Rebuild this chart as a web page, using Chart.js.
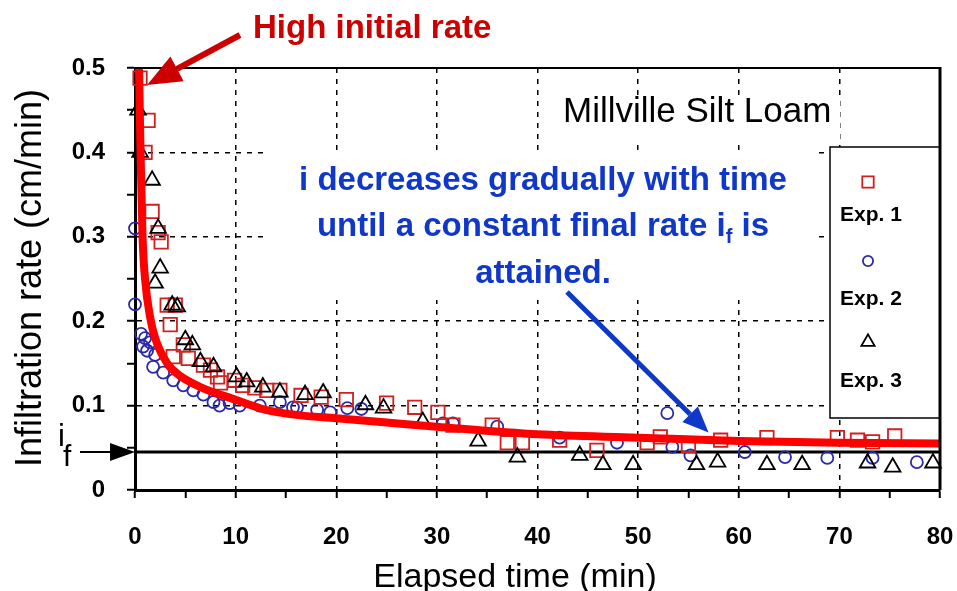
<!DOCTYPE html>
<html>
<head>
<meta charset="utf-8">
<title>Millville Silt Loam - infiltration rate</title>
<script src="https://cdn.jsdelivr.net/npm/chart.js@4.4.1/dist/chart.umd.min.js"></script>
<style>
  html, body { margin: 0; padding: 0; background: #fff; }
</style>
</head>
<body>
<canvas id="canvas" width="957" height="591"></canvas>
<script>
'use strict';

// Exp. 1 (red squares)
var exp1X = [0.5, 1.3, 1.0, 1.7, 2.3, 2.6, 3.2, 4.0, 3.5, 4.8, 3.8, 5.3, 6.8, 7.5, 8.2, 8.5, 9.9, 10.7, 11.9, 13.1, 14.4, 16.5, 18.5, 21.0, 25.0, 27.8, 30.1, 31.6, 35.5, 37.0, 38.5, 42.2, 45.9, 50.9, 52.2, 55.0, 58.2, 62.8, 69.8, 71.8, 73.3, 75.5];
var exp1Y = [0.488, 0.438, 0.400, 0.330, 0.305, 0.294, 0.219, 0.219, 0.196, 0.172, 0.158, 0.156, 0.148, 0.142, 0.134, 0.127, 0.130, 0.124, 0.121, 0.118, 0.118, 0.112, 0.110, 0.107, 0.103, 0.098, 0.092, 0.077, 0.077, 0.056, 0.056, 0.059, 0.047, 0.056, 0.063, 0.053, 0.059, 0.062, 0.062, 0.059, 0.057, 0.064];

// Exp. 2 (blue circles)
var exp2X = [0.0, 0.0, 0.6, 1.0, 0.8, 1.5, 1.2, 2.0, 1.8, 2.8, 3.8, 4.8, 5.8, 6.8, 7.8, 8.4, 9.4, 10.4, 12.4, 14.4, 15.7, 16.1, 18.1, 19.4, 21.1, 22.5, 30.6, 31.6, 36.0, 42.2, 47.9, 52.9, 53.4, 55.2, 60.6, 64.6, 68.8, 73.3, 77.7];
var exp2Y = [0.310, 0.220, 0.185, 0.180, 0.170, 0.175, 0.165, 0.160, 0.146, 0.139, 0.130, 0.124, 0.118, 0.113, 0.104, 0.100, 0.103, 0.100, 0.100, 0.104, 0.098, 0.098, 0.095, 0.092, 0.097, 0.096, 0.079, 0.079, 0.075, 0.062, 0.056, 0.091, 0.051, 0.041, 0.045, 0.039, 0.038, 0.038, 0.033];

// Exp. 3 (black triangles)
var exp3X = [0.3, 0.5, 1.7, 2.3, 2.5, 2.0, 3.7, 4.2, 5.0, 5.7, 6.5, 7.8, 10.1, 11.1, 12.7, 14.4, 16.9, 18.7, 22.9, 24.7, 28.6, 34.1, 38.0, 44.2, 46.5, 49.5, 55.8, 57.9, 62.8, 66.3, 72.8, 75.3, 79.3];
var exp3Y = [0.450, 0.400, 0.367, 0.310, 0.263, 0.245, 0.219, 0.217, 0.178, 0.172, 0.152, 0.146, 0.134, 0.128, 0.122, 0.116, 0.113, 0.115, 0.101, 0.097, 0.081, 0.058, 0.039, 0.041, 0.030, 0.030, 0.030, 0.033, 0.030, 0.030, 0.032, 0.027, 0.032];

// fitted curve
var fitX = [0.4, 0.55, 0.75, 1.0, 1.5, 2.0, 3.2, 4.5, 6.5, 10, 13, 16, 20, 25, 30, 40, 50, 60, 70, 80];
var fitY = [0.5, 0.4, 0.3, 0.25, 0.205, 0.18, 0.15, 0.135, 0.122, 0.107, 0.095, 0.089, 0.085, 0.080, 0.075, 0.066, 0.062, 0.058, 0.056, 0.055];

// constant final rate i_f
var finalRate = 0.045;

var xTickLabels = ['0', '10', '20', '30', '40', '50', '60', '70', '80'];
var yTickLabels = ['0', '0.1', '0.2', '0.3', '0.4', '0.5'];
var legendLabels = ['Exp. 1', 'Exp. 2', 'Exp. 3'];

var FONT = "'Liberation Sans', Arial, sans-serif";

function pts(xs, ys) {
	return xs.map(function(x, i) { return {x: x, y: ys[i]}; });
}

function isMajor(v, step) {
	var r = v / step;
	return Math.abs(r - Math.round(r)) < 1e-6;
}

function arrow(ctx, x1, y1, x2, y2, color, width, headLen, headW) {
	var ang = Math.atan2(y2 - y1, x2 - x1);
	var bx = x2 - headLen * Math.cos(ang), by = y2 - headLen * Math.sin(ang);
	ctx.save();
	ctx.strokeStyle = color;
	ctx.lineWidth = width;
	ctx.beginPath();
	ctx.moveTo(x1, y1);
	ctx.lineTo(bx, by);
	ctx.stroke();
	ctx.fillStyle = color;
	ctx.beginPath();
	ctx.moveTo(x2, y2);
	ctx.lineTo(bx + headW / 2 * Math.sin(ang), by - headW / 2 * Math.cos(ang));
	ctx.lineTo(bx - headW / 2 * Math.sin(ang), by + headW / 2 * Math.cos(ang));
	ctx.closePath();
	ctx.fill();
	ctx.restore();
}

var overlay = {
	id: 'overlay',
	beforeDatasetsDraw: function(chart) {
		var ctx = chart.ctx;
		ctx.save();
		ctx.fillStyle = '#fff';
		ctx.fillRect(265, 151, 553, 149);  // text box
		ctx.fillRect(555, 95, 285, 45);    // site name
		ctx.fillRect(830, 147, 110, 271);  // legend
		ctx.restore();
	},
	afterDraw: function(chart) {
		var ctx = chart.ctx;
		var a = chart.chartArea;
		var xs = chart.scales.x, ys = chart.scales.y;
		ctx.save();

		// frame top / right
		ctx.strokeStyle = '#000';
		ctx.lineWidth = 2;
		ctx.beginPath();
		ctx.moveTo(a.left, a.top);
		ctx.lineTo(a.right, a.top);
		ctx.stroke();
		ctx.lineWidth = 3;
		ctx.beginPath();
		ctx.moveTo(a.right, a.top - 1);
		ctx.lineTo(a.right, a.bottom);
		ctx.stroke();

		// legend
		ctx.lineWidth = 1.5;
		ctx.strokeRect(830, 147, 110, 271);
		var dsets = chart.data.datasets.slice(1, 4);
		var markY = [182, 261, 342], textY = [221, 305, 387];
		ctx.font = 'bold 21px ' + FONT;
		ctx.textAlign = 'center';
		ctx.fillStyle = '#000';
		dsets.forEach(function(ds, i) {
			ctx.save();
			ctx.strokeStyle = ds.borderColor;
			ctx.fillStyle = 'rgba(0,0,0,0)';
			ctx.lineWidth = ds.borderWidth;
			Chart.helpers.drawPoint(ctx, {pointStyle: ds.pointStyle, radius: ds.pointRadius * 0.85, borderWidth: ds.borderWidth, rotation: 0}, 868, markY[i]);
			ctx.restore();
			ctx.fillText(legendLabels[i], 871, textY[i]);
		});

		// site name
		ctx.textAlign = 'left';
		ctx.font = '35px ' + FONT;
		ctx.fillText('Millville Silt Loam', 563, 122);

		// axis titles
		ctx.textAlign = 'center';
		ctx.font = '34px ' + FONT;
		ctx.fillText('Elapsed time (min)', 515, 587);
		ctx.save();
		ctx.translate(41, 278);
		ctx.rotate(-Math.PI / 2);
		ctx.font = '36px ' + FONT;
		ctx.fillText('Infiltration rate (cm/min)', 0, 0);
		ctx.restore();

		// i_f marker on the y axis
		var yf = ys.getPixelForValue(finalRate);
		ctx.textAlign = 'left';
		ctx.font = '31px ' + FONT;
		ctx.fillText('i', 58, yf - 6);
		ctx.font = '30px ' + FONT;
		ctx.fillText('f', 63, yf + 14);
		ctx.lineWidth = 2;
		ctx.beginPath();
		ctx.moveTo(80, yf);
		ctx.lineTo(112, yf);
		ctx.stroke();
		ctx.beginPath();
		ctx.moveTo(a.left, yf);
		ctx.lineTo(110, yf - 9);
		ctx.lineTo(110, yf + 9);
		ctx.closePath();
		ctx.fill();

		// red note
		ctx.font = 'bold 33px ' + FONT;
		ctx.fillStyle = '#cc0000';
		ctx.fillText('High initial rate', 253, 38);
		arrow(ctx, 240, 35, xs.getPixelForValue(1.2), ys.getPixelForValue(0.48), '#cc0000', 6, 34, 28);

		// blue note
		ctx.fillStyle = '#1038c8';
		ctx.textAlign = 'center';
		ctx.font = 'bold 33px ' + FONT;
		ctx.fillText('i decreases gradually with time', 543, 190);
		var l2a = 'until a constant final rate i', l2b = ' is';
		var w2a = ctx.measureText(l2a).width, w2b = ctx.measureText(l2b).width;
		ctx.font = 'bold 20px ' + FONT;
		var wsub = ctx.measureText('f').width;
		var x0 = 543 - (w2a + wsub + w2b) / 2;
		ctx.textAlign = 'left';
		ctx.font = 'bold 33px ' + FONT;
		ctx.fillText(l2a, x0, 236);
		ctx.font = 'bold 20px ' + FONT;
		ctx.fillText('f', x0 + w2a, 243);
		ctx.font = 'bold 33px ' + FONT;
		ctx.fillText(l2b, x0 + w2a + wsub, 236);
		ctx.textAlign = 'center';
		ctx.fillText('attained.', 543, 283);
		arrow(ctx, 567, 292, xs.getPixelForValue(57), ys.getPixelForValue(0.068), '#1038c8', 5, 26, 22);

		ctx.restore();
	}
};

var ctx = document.getElementById('canvas').getContext('2d');
window.myChart = new Chart(ctx, {
	type: 'scatter',
	data: {
		datasets: [{
			label: 'fit',
			data: pts(fitX, fitY),
			showLine: true,
			borderColor: '#ff0000',
			borderWidth: 8,
			pointRadius: 0,
			cubicInterpolationMode: 'monotone',
			order: 0
		}, {
			label: legendLabels[0],
			data: pts(exp1X, exp1Y),
			pointStyle: 'rect',
			pointRadius: 9.5,
			borderColor: '#d02020',
			backgroundColor: 'rgba(0,0,0,0)',
			borderWidth: 1.8,
			clip: false,
			order: 2
		}, {
			label: legendLabels[1],
			data: pts(exp2X, exp2Y),
			pointStyle: 'circle',
			pointRadius: 6,
			borderColor: '#2a2aa8',
			backgroundColor: 'rgba(0,0,0,0)',
			borderWidth: 1.8,
			clip: false,
			order: 3
		}, {
			label: legendLabels[2],
			data: pts(exp3X, exp3Y),
			pointStyle: 'triangle',
			pointRadius: 9,
			borderColor: '#000',
			backgroundColor: 'rgba(0,0,0,0)',
			borderWidth: 1.8,
			clip: false,
			order: 1
		}, {
			label: 'if',
			data: [{x: 0, y: finalRate}, {x: 80, y: finalRate}],
			showLine: true,
			borderColor: '#000',
			borderWidth: 3,
			pointRadius: 0,
			order: 5
		}]
	},
	options: {
		responsive: false,
		animation: false,
		layout: {padding: {top: 68, right: 17, left: 0, bottom: 0}},
		plugins: {
			legend: {display: false},
			tooltip: {enabled: false}
		},
		scales: {
			x: {
				type: 'linear',
				min: 0,
				max: 80,
				afterFit: function(s) { s.height = 101; s.paddingLeft = 0; s.paddingRight = 0; },
				ticks: {
					stepSize: 5,
					autoSkip: false,
					maxRotation: 0,
					padding: 25,
					color: '#000',
					font: {family: FONT, size: 24, weight: 'bold'},
					callback: function(v) { return isMajor(v, 10) ? xTickLabels[Math.round(v / 10)] : ''; }
				},
				grid: {
					color: function(c) {
						var v = c.tick ? c.tick.value : 0;
						return (isMajor(v, 10) && v > 0 && v < 80) ? '#000' : 'rgba(0,0,0,0)';
					},
					lineWidth: 1.5,
					tickColor: '#000',
					tickLength: 8,
					tickWidth: 2
				},
				border: {color: '#000', width: 3, dash: [5, 6]}
			},
			y: {
				min: 0,
				max: 0.5,
				afterFit: function(s) { s.width = 135; s.paddingTop = 0; s.paddingBottom = 0; },
				ticks: {
					stepSize: 0.05,
					autoSkip: false,
					padding: 22,
					color: '#000',
					font: {family: FONT, size: 24, weight: 'bold'},
					callback: function(v) { return isMajor(v, 0.1) ? yTickLabels[Math.round(v * 10)] : ''; }
				},
				grid: {
					color: function(c) {
						var v = c.tick ? c.tick.value : 0;
						return (isMajor(v, 0.1) && v > 0.01 && v < 0.49) ? '#000' : 'rgba(0,0,0,0)';
					},
					lineWidth: 1.5,
					tickColor: '#000',
					tickLength: 8,
					tickWidth: 2
				},
				border: {color: '#000', width: 3, dash: [5, 6]}
			}
		}
	},
	plugins: [overlay]
});
</script>
</body>
</html>
